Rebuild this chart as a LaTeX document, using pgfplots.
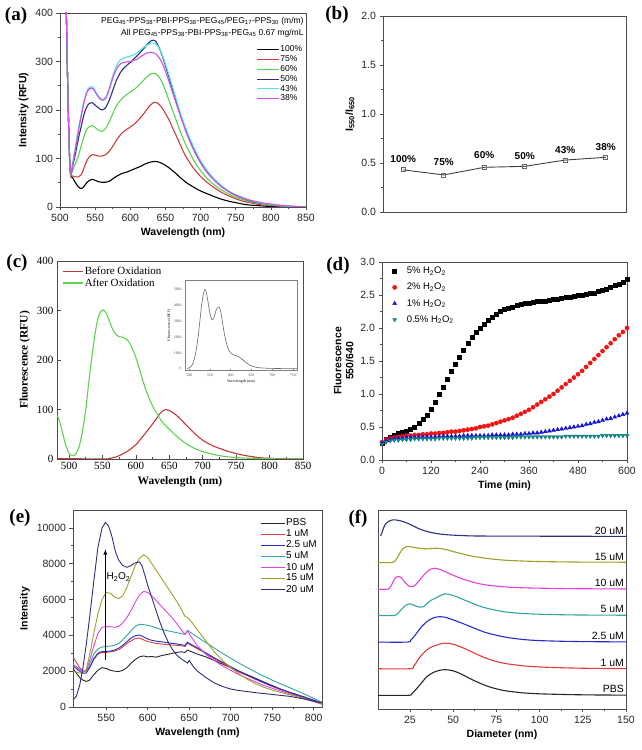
\documentclass[border=0pt]{standalone}
\usepackage{fontspec}
\setmainfont{Liberation Sans}
\newfontfamily\timesf{Liberation Serif}
\usepackage{pgfplots}
\pgfplotsset{compat=1.18}

\definecolor{cRed}{RGB}{205,60,60}
\definecolor{cGreen}{RGB}{90,210,80}
\definecolor{cNavy}{RGB}{45,45,135}
\definecolor{cCyan}{RGB}{80,225,225}
\definecolor{cMag}{RGB}{210,80,225}
\definecolor{oxRed}{RGB}{195,55,55}
\definecolor{oxGreen}{RGB}{95,210,80}
\definecolor{dRed}{RGB}{240,20,20}
\definecolor{dBlue}{RGB}{20,20,210}
\definecolor{dTeal}{RGB}{20,130,130}
\definecolor{eRed}{RGB}{225,60,60}
\definecolor{eBlue}{RGB}{35,45,195}
\definecolor{eTeal}{RGB}{50,165,160}
\definecolor{eMag}{RGB}{225,65,225}
\definecolor{eOlive}{RGB}{160,160,40}
\definecolor{eNavy}{RGB}{45,45,130}

\pgfplotsset{
  panel/.style={
    scale only axis, anchor=south west,
    /pgf/number format/assume math mode=true,
    /pgf/number format/1000 sep={},
    scaled ticks=false,
    tick label style={font=\fontsize{10.5}{12}\selectfont, text=black!85},
    label style={font=\bfseries\fontsize{10.5}{12}\selectfont},
    xtick pos=left, ytick pos=left, tick align=outside,
    major tick length=3.5pt, minor tick length=2pt,
    axis line style={line width=0.9pt, black!70},
    every tick/.style={black!70, line width=0.7pt},
    legend cell align=left,
  },
}

\begin{document}
\begin{tikzpicture}
\path[use as bounding box] (0,0) rectangle (642pt,750pt);

% ---------- (a) ----------
\begin{axis}[panel, at={(60pt,543pt)}, width=246pt, height=194pt,
  xmin=500, xmax=850, ymin=0, ymax=400,
  xtick={500,550,...,850}, ytick={0,100,...,400},
  minor x tick num=1, minor y tick num=1,
  xlabel={Wavelength (nm)}, ylabel={Intensity (RFU)},
  legend style={at={(rel axis cs:1,0.845)}, anchor=north east, draw=none, fill=none,
    font=\fontsize{8.5}{10}\selectfont, row sep=1.2pt, nodes={inner sep=0.6pt}},
  legend image code/.code={\draw[#1, line width=1.1pt] (0pt,0pt) -- (22pt,0pt);},
  every axis plot/.append style={line width=1.1pt, smooth}]
\addplot[black] coordinates {(505,700)(509,400)(511,250)(513,130)(515,68)(518,60)(522,50)(526,42)(530,38)(534,42)(538,50)(542,55)(546,57)(550,55)(555,52)(560,51)(565,51)(570,53)(575,58)(580,63)(585,67)(590,70)(595,72)(600,75)(605,78)(610,81)(615,84)(620,88)(625,91)(630,93)(635,94)(640,93)(645,90)(650,86)(655,81)(660,75)(665,69)(670,62)(675,56)(680,50)(690,41)(700,33)(710,27)(720,21)(730,16)(740,12)(750,9)(760,6)(770,4)(780,3)(790,2)(800,1)(820,0.5)(850,0)};
\addlegendentry{100\%}
\addplot[cRed] coordinates {(505,700)(509,400)(511,250)(513,130)(515,68)(518,64)(522,62)(526,62)(530,66)(534,80)(538,95)(542,104)(546,108)(550,107)(555,105)(560,105)(565,108)(570,115)(575,125)(580,137)(585,147)(590,155)(595,160)(600,165)(605,170)(610,177)(615,185)(620,194)(625,204)(630,212)(635,216)(640,213)(645,205)(650,193)(655,180)(660,164)(665,148)(670,132)(675,116)(680,102)(690,80)(700,63)(710,50)(720,39)(730,30)(740,23)(750,17)(760,12)(770,9)(780,6)(790,4)(800,3)(820,1)(850,0)};
\addlegendentry{75\%}
\addplot[cGreen] coordinates {(505,700)(509,400)(511,250)(513,130)(515,68)(518,75)(522,90)(526,105)(530,125)(534,145)(538,160)(542,166)(546,168)(550,164)(555,158)(560,156)(565,162)(570,175)(575,192)(580,208)(585,218)(590,226)(595,232)(600,237)(605,242)(610,248)(615,255)(620,263)(625,270)(630,275)(635,275)(640,270)(645,258)(650,240)(655,220)(660,200)(665,180)(670,160)(675,142)(680,125)(690,97)(700,75)(710,58)(720,45)(730,35)(740,27)(750,20)(760,15)(770,11)(780,8)(790,6)(800,4)(820,2)(850,0)};
\addlegendentry{60\%}
\addplot[cNavy] coordinates {(505,700)(509,400)(511,250)(513,130)(515,68)(518,85)(522,110)(526,140)(530,165)(534,190)(538,206)(542,214)(546,215)(550,210)(555,204)(560,200)(565,205)(570,220)(575,240)(580,260)(585,275)(590,285)(595,292)(600,298)(605,305)(610,312)(615,320)(620,328)(625,337)(630,343)(633,344)(637,340)(642,325)(647,305)(652,282)(657,258)(662,234)(667,210)(672,188)(677,167)(682,148)(690,120)(700,92)(710,71)(720,55)(730,42)(740,32)(750,24)(760,18)(770,13)(780,9)(790,7)(800,5)(820,2)(850,0)};
\addlegendentry{50\%}
\addplot[cCyan] coordinates {(505,700)(509,400)(511,250)(513,130)(515,68)(518,90)(522,125)(526,160)(530,190)(534,218)(538,238)(542,247)(546,248)(550,240)(555,228)(560,222)(565,226)(570,245)(575,270)(580,290)(585,302)(590,307)(595,309)(600,311)(605,314)(610,318)(615,324)(620,330)(625,335)(630,338)(635,338)(640,330)(645,315)(650,295)(655,272)(660,248)(665,224)(670,200)(675,178)(680,158)(690,124)(700,96)(710,74)(720,57)(730,44)(740,33)(750,25)(760,19)(770,14)(780,10)(790,7)(800,5)(820,2)(850,0)};
\addlegendentry{43\%}
\addplot[cMag] coordinates {(505,700)(509,400)(511,250)(513,130)(515,68)(518,88)(522,120)(526,155)(530,185)(534,214)(538,235)(542,244)(546,245)(550,237)(555,226)(560,220)(565,224)(570,242)(575,265)(580,283)(585,294)(590,298)(595,299)(600,300)(605,302)(610,305)(615,310)(620,315)(625,318)(630,319)(635,317)(640,310)(645,298)(650,280)(655,259)(660,237)(665,215)(670,193)(675,172)(680,152)(690,118)(700,91)(710,70)(720,54)(730,42)(740,32)(750,25)(760,19)(770,14)(780,11)(790,8)(800,6)(810,4)(820,3)(835,1)(850,0)};
\addlegendentry{38\%}
\node[anchor=north east, align=right, font=\fontsize{8.5}{12}\selectfont, inner sep=1pt] at (rel axis cs:0.995,0.985)
  {PEG\textsubscript{45}-PPS\textsubscript{38}-PBI-PPS\textsubscript{38}-PEG\textsubscript{45}/PEG\textsubscript{17}-PPS\textsubscript{30} (m/m)\\
   All PEG\textsubscript{45}-PPS\textsubscript{38}-PBI-PPS\textsubscript{38}-PEG\textsubscript{45} 0.67 mg/mL};
\end{axis}

% ---------- (b) ----------
\begin{axis}[panel, at={(383pt,538pt)}, width=243pt, height=196pt,
  xmin=0.5, xmax=6.5, ymin=0, ymax=2,
  xtick=\empty, ytick={0,0.5,...,2}, minor y tick num=1,
  yticklabel style={/pgf/number format/.cd, fixed, fixed zerofill, precision=1},
  ylabel={I\textsubscript{550}/I\textsubscript{650}}]
\addplot[black!75, line width=0.9pt, mark=square, mark size=2pt, mark options={fill=white, black!60}]
  coordinates {(1,0.43)(2,0.378)(3,0.456)(4,0.466)(5,0.53)(6,0.558)};
\foreach \xx/\yy/\tt in {1/0.545/100, 2/0.505/75, 3/0.58/60, 4/0.575/50, 5/0.635/43, 6/0.665/38}{
  \edef\tmp{\noexpand\node[font=\noexpand\bfseries\noexpand\fontsize{10}{12}\noexpand\selectfont] at (axis cs:\xx,\yy) {\tt\noexpand\%};}\tmp
}
\end{axis}

% ---------- (c) ----------
\begin{axis}[panel, at={(57pt,291pt)}, width=246pt, height=198pt,
  xmin=482, xmax=850, ymin=0, ymax=400,
  xtick={500,550,...,850}, ytick={0,100,...,400},
  minor x tick num=1, tick align=inside,
  tick label style={font=\timesf\fontsize{11}{12}\selectfont, text=black},
  label style={font=\timesf\bfseries\fontsize{11.5}{12}\selectfont},
  xlabel={Wavelength (nm)}, ylabel={Fluorescence (RFU)},
  legend style={at={(rel axis cs:0.01,0.985)}, anchor=north west, draw=none, fill=none,
    font=\timesf\fontsize{11}{12}\selectfont, row sep=0pt, nodes={inner sep=1pt}},
  legend image code/.code={\draw[#1, line width=1.1pt] (0pt,0pt) -- (20pt,0pt);},
  every axis plot/.append style={line width=1.1pt, smooth}]
\addplot[oxRed] coordinates {(482,1)(550,0)(560,1)(570,4)(580,10)(590,18)(600,29)(610,45)(620,62)(630,80)(638,95)(645,100)(650,98)(660,89)(670,76)(680,62)(690,49)(700,38)(710,30)(720,24)(730,19)(740,14.5)(750,11)(760,8)(770,5.5)(780,3.5)(790,2)(800,1.3)(820,0.5)(850,0)};
\addlegendentry{Before Oxidation}
\addplot[oxGreen] coordinates {(482,88)(485,80)(490,55)(495,28)(500,12)(505,7)(510,10)(515,25)(520,55)(525,100)(530,160)(535,215)(540,262)(545,292)(550,301)(555,296)(560,280)(565,263)(570,252)(575,247)(580,246)(585,243)(590,236)(595,222)(600,205)(605,183)(610,160)(615,140)(620,122)(625,107)(630,95)(635,84)(640,74)(650,60)(660,47)(670,36)(680,27)(690,20)(700,15)(720,8)(740,4)(760,2)(780,1)(800,0.5)(850,0)};
\addlegendentry{After Oxidation}
\end{axis}

% inset of (c)
\begin{axis}[scale only axis, anchor=south west, at={(185pt,380pt)}, width=112pt, height=90pt,
  xmin=490, xmax=760, ymin=-80, ymax=5600,
  xtick={500,550,...,750}, ytick={0,1000,...,5000},
  /pgf/number format/assume math mode=true, /pgf/number format/1000 sep={},
  scaled ticks=false,
  tick label style={font=\timesf\fontsize{3.8}{4}\selectfont, text=black!70},
  label style={font=\timesf\bfseries\fontsize{3.8}{4}\selectfont, text=black!70},
  xlabel={Wavelength (nm)}, ylabel={Fluorescence (RFU)},
  xlabel style={yshift=3pt}, ylabel style={yshift=-4pt},
  major tick length=1.2pt, tick align=inside, xtick pos=left, ytick pos=left,
  axis line style={black!50, line width=0.4pt}, every tick/.style={black!50, line width=0.3pt}]
\addplot[black!60, line width=0.6pt, smooth] coordinates {(495,30)(500,50)(505,150)(510,400)(515,900)(520,1700)(525,2800)(530,4000)(535,4800)(538,5000)(541,4850)(545,4300)(550,3500)(555,3100)(560,3250)(565,3700)(570,3900)(573,3880)(577,3500)(580,3000)(585,2200)(590,1600)(595,1200)(600,1000)(605,900)(610,850)(615,800)(620,750)(625,650)(630,550)(635,430)(640,330)(645,250)(650,180)(660,100)(670,60)(680,40)(700,20)(725,10)(750,5)(760,3)};
\end{axis}

% ---------- (d) ----------
\begin{axis}[panel, at={(382pt,290pt)}, width=245pt, height=198pt,
  xmin=0, xmax=600, ymin=0, ymax=3,
  xtick={0,120,...,600}, ytick={0,0.5,...,3},
  minor x tick num=1, minor y tick num=1,
  yticklabel style={/pgf/number format/.cd, fixed, fixed zerofill, precision=1},
  xlabel={Time (min)}, ylabel={Fluorescence\\550/640}, ylabel style={align=center},
  legend style={at={(rel axis cs:0.03,0.99)}, anchor=north west, draw=none, fill=none,
    font=\fontsize{9.5}{11}\selectfont, row sep=6pt, nodes={inner sep=1pt},
    /tikz/every odd column/.append style={column sep=9pt}}]
\addplot[only marks, mark=square*, mark size=2pt, black] coordinates {(0,0.25)(10,0.31)(20,0.34)(30,0.37)(40,0.40)(50,0.42)(60,0.44)(70,0.47)(80,0.50)(90,0.55)(100,0.62)(110,0.68)(120,0.77)(130,0.87)(140,0.99)(150,1.10)(160,1.22)(170,1.34)(180,1.45)(190,1.56)(200,1.67)(210,1.77)(220,1.86)(230,1.94)(240,2.00)(250,2.06)(260,2.12)(270,2.17)(280,2.21)(290,2.25)(300,2.28)(310,2.30)(320,2.32)(330,2.34)(340,2.36)(350,2.37)(360,2.38)(370,2.39)(380,2.40)(390,2.41)(400,2.41)(410,2.42)(420,2.43)(430,2.44)(440,2.45)(450,2.46)(460,2.47)(470,2.48)(480,2.49)(490,2.50)(500,2.51)(510,2.52)(520,2.53)(530,2.55)(540,2.57)(550,2.59)(560,2.62)(570,2.65)(580,2.67)(590,2.70)(600,2.74)};
\addlegendentry{5\% H\textsubscript{2}O\textsubscript{2}}
\addplot[only marks, mark=*, mark size=2.1pt, dRed] coordinates {(0,0.27)(10,0.31)(20,0.33)(30,0.34)(40,0.35)(50,0.36)(60,0.37)(70,0.37)(80,0.38)(90,0.38)(100,0.39)(110,0.39)(120,0.40)(130,0.40)(140,0.41)(150,0.41)(160,0.42)(170,0.43)(180,0.43)(190,0.44)(200,0.45)(210,0.46)(220,0.47)(230,0.48)(240,0.50)(250,0.51)(260,0.52)(270,0.54)(280,0.56)(290,0.58)(300,0.60)(310,0.62)(320,0.64)(330,0.67)(340,0.70)(350,0.73)(360,0.76)(370,0.80)(380,0.84)(390,0.88)(400,0.92)(410,0.96)(420,1.00)(430,1.05)(440,1.10)(450,1.15)(460,1.20)(470,1.25)(480,1.30)(490,1.35)(500,1.41)(510,1.47)(520,1.53)(530,1.59)(540,1.65)(550,1.71)(560,1.77)(570,1.83)(580,1.89)(590,1.94)(600,2.00)};
\addlegendentry{2\% H\textsubscript{2}O\textsubscript{2}}
\addplot[only marks, mark=triangle*, mark size=2.3pt, dBlue] coordinates {(0,0.26)(10,0.29)(20,0.31)(30,0.32)(40,0.33)(50,0.33)(60,0.34)(70,0.34)(80,0.34)(90,0.35)(100,0.35)(110,0.35)(120,0.35)(130,0.35)(140,0.36)(150,0.36)(160,0.36)(170,0.36)(180,0.36)(190,0.36)(200,0.37)(210,0.37)(220,0.37)(230,0.37)(240,0.37)(250,0.37)(260,0.37)(270,0.38)(280,0.38)(290,0.38)(300,0.38)(310,0.38)(320,0.39)(330,0.39)(340,0.39)(350,0.40)(360,0.40)(370,0.41)(380,0.41)(390,0.42)(400,0.43)(410,0.44)(420,0.45)(430,0.46)(440,0.47)(450,0.48)(460,0.49)(470,0.50)(480,0.51)(490,0.52)(500,0.54)(510,0.55)(520,0.57)(530,0.58)(540,0.60)(550,0.62)(560,0.63)(570,0.65)(580,0.67)(590,0.69)(600,0.71)};
\addlegendentry{1\% H\textsubscript{2}O\textsubscript{2}}
\addplot[only marks, mark=triangle*, mark options={rotate=180}, mark size=2.3pt, dTeal] coordinates {(0,0.24)(10,0.27)(20,0.29)(30,0.30)(40,0.30)(50,0.31)(60,0.31)(70,0.31)(80,0.32)(90,0.32)(100,0.32)(110,0.32)(120,0.32)(130,0.32)(140,0.33)(150,0.33)(160,0.33)(170,0.33)(180,0.33)(190,0.33)(200,0.33)(210,0.33)(220,0.33)(230,0.34)(240,0.34)(250,0.34)(260,0.34)(270,0.34)(280,0.34)(290,0.34)(300,0.34)(310,0.34)(320,0.34)(330,0.35)(340,0.35)(350,0.35)(360,0.35)(370,0.35)(380,0.35)(390,0.35)(400,0.35)(410,0.35)(420,0.35)(430,0.35)(440,0.35)(450,0.36)(460,0.36)(470,0.36)(480,0.36)(490,0.36)(500,0.36)(510,0.36)(520,0.36)(530,0.36)(540,0.37)(550,0.37)(560,0.37)(570,0.37)(580,0.37)(590,0.37)(600,0.37)};
\addlegendentry{0.5\% H\textsubscript{2}O\textsubscript{2}}
\end{axis}

% ---------- (e) ----------
\begin{axis}[panel, at={(73pt,43pt)}, width=249pt, height=197pt,
  xmin=510, xmax=810, ymin=0, ymax=11000,
  xtick={550,600,...,800}, ytick={0,2000,...,10000},
  minor x tick num=1, minor y tick num=1,
  xlabel={Wavelength (nm)}, ylabel={Intensity},
  legend style={at={(rel axis cs:0.995,0.97)}, anchor=north east, draw=none, fill=none,
    font=\fontsize{10}{11}\selectfont, row sep=1pt, nodes={inner sep=0.8pt}},
  legend image code/.code={\draw[#1, line width=1pt] (0pt,0pt) -- (24pt,0pt);},
  every axis plot/.append style={line width=0.9pt}]
\addplot[black!85] coordinates {(510,2150)(514,1900)(518,1650)(522,1500)(526,1430)(530,1500)(535,1800)(540,2050)(545,2200)(550,2150)(555,2050)(560,2000)(565,1980)(570,2050)(575,2200)(580,2450)(585,2650)(590,2800)(595,2850)(600,2800)(605,2820)(610,2780)(615,2850)(620,2900)(625,2950)(630,3000)(635,3050)(640,3080)(645,3050)(648,3180)(652,3100)(660,2950)(670,2800)(680,2600)(690,2400)(700,2200)(710,2000)(720,1800)(730,1600)(740,1400)(750,1200)(760,1000)(770,820)(780,650)(790,500)(800,350)(810,220)};
\addlegendentry{PBS}
\addplot[eRed] coordinates {(510,2800)(514,2500)(518,2200)(522,2000)(526,2000)(530,2200)(535,2650)(540,2950)(545,3050)(550,3050)(555,3080)(560,3120)(565,3200)(570,3350)(575,3550)(580,3700)(585,3820)(590,3850)(595,3750)(600,3650)(605,3600)(610,3550)(615,3530)(620,3500)(625,3480)(630,3460)(635,3440)(640,3420)(645,3380)(648,3560)(652,3450)(660,3250)(670,3000)(680,2700)(690,2450)(700,2200)(710,1950)(720,1750)(730,1550)(740,1350)(750,1150)(760,980)(770,820)(780,680)(790,530)(800,380)(810,220)};
\addlegendentry{1 uM}
\addplot[eBlue] coordinates {(510,2300)(514,2150)(518,2000)(522,1880)(526,1900)(530,2200)(535,2700)(540,3000)(545,3100)(550,3100)(555,3120)(560,3180)(565,3280)(570,3450)(575,3650)(580,3850)(585,3980)(590,4020)(595,3920)(600,3800)(605,3720)(610,3680)(615,3650)(620,3620)(625,3580)(630,3550)(635,3520)(640,3480)(645,3440)(648,3620)(652,3500)(660,3300)(670,3020)(680,2750)(690,2500)(700,2250)(710,2000)(720,1780)(730,1560)(740,1360)(750,1170)(760,1000)(770,840)(780,690)(790,540)(800,380)(810,220)};
\addlegendentry{2.5 uM}
\addplot[eTeal] coordinates {(510,2400)(514,2250)(518,2100)(522,1980)(526,2000)(530,2400)(535,2950)(540,3250)(545,3350)(550,3380)(555,3400)(560,3450)(565,3550)(570,3750)(575,4000)(580,4250)(585,4500)(590,4620)(595,4600)(600,4560)(605,4500)(610,4420)(615,4350)(620,4300)(625,4250)(630,4200)(635,4150)(640,4100)(645,4050)(648,4280)(652,4150)(660,3900)(670,3600)(680,3300)(690,3000)(700,2720)(710,2450)(720,2200)(730,1950)(740,1720)(750,1500)(760,1300)(770,1100)(780,900)(790,700)(800,480)(810,260)};
\addlegendentry{5 uM}
\addplot[eMag] coordinates {(510,2300)(514,2200)(518,2100)(522,2000)(526,2050)(530,2600)(535,3400)(540,4100)(545,4450)(550,4500)(555,4480)(560,4450)(565,4500)(570,4700)(575,5000)(580,5400)(585,5850)(590,6250)(595,6450)(600,6400)(605,6200)(610,5950)(615,5700)(620,5450)(625,5200)(630,4950)(635,4650)(640,4350)(645,4050)(648,4250)(652,3950)(660,3400)(670,2950)(680,2600)(690,2300)(700,2050)(710,1800)(720,1600)(730,1400)(740,1200)(750,1050)(760,900)(770,750)(780,600)(790,450)(800,300)(810,150)};
\addlegendentry{10 uM}
\addplot[eOlive] coordinates {(510,2000)(514,1950)(518,1900)(522,1880)(526,2100)(530,2900)(535,4100)(540,5200)(545,6000)(550,6400)(555,6350)(560,6150)(565,6050)(570,6200)(575,6700)(580,7300)(585,7900)(590,8300)(595,8500)(600,8350)(605,8000)(610,7650)(615,7300)(620,6950)(625,6600)(630,6250)(635,5900)(640,5500)(645,5050)(648,5000)(652,4800)(660,4300)(670,3700)(680,3100)(690,2600)(700,2200)(710,1850)(720,1550)(730,1300)(740,1100)(750,950)(760,820)(770,700)(780,580)(790,450)(800,320)(810,180)};
\addlegendentry{15 uM}
\addplot[eNavy] coordinates {(510,400)(514,600)(518,1200)(522,2200)(526,3500)(530,5000)(535,7000)(540,8900)(545,10000)(549,10300)(553,10100)(557,9500)(561,8700)(565,8200)(570,7900)(575,7800)(580,7900)(585,8050)(590,8100)(593,7900)(597,7300)(600,6800)(605,6100)(610,5400)(615,4700)(620,4100)(625,3600)(630,3200)(635,2900)(640,2700)(645,2550)(648,2450)(650,2600)(655,2250)(660,2000)(670,1650)(680,1350)(690,1150)(700,1000)(710,920)(720,860)(730,800)(740,750)(750,700)(760,650)(770,600)(780,520)(790,430)(800,320)(810,230)};
\addlegendentry{20 uM}
\draw[-latex, line width=0.8pt] (axis cs:549,2600) -- (axis cs:549,8800);
\node[font=\fontsize{10}{12}\selectfont, anchor=west, inner sep=1pt] at (axis cs:549,7250) {H\textsubscript{2}O\textsubscript{2}};
\end{axis}

% ---------- (f) ----------
\begin{axis}[panel, at={(378pt,41pt)}, width=248pt, height=199pt,
  xmin=6.5, xmax=150, ymin=0, ymax=199.3,
  xtick={25,50,...,150}, minor x tick num=1, ytick=\empty,
  xlabel={Diameter (nm)},
  every axis plot/.append style={line width=1.1pt, smooth}]
\addplot[black!85] coordinates {(6.5,13.7)(24,13.7)(26,15.2)(28,18.7)(31,24.7)(35,32.7)(40,37.7)(45,39.4)(50,38.2)(55,34.7)(60,30.2)(65,26.2)(70,22.7)(75,20.2)(80,18.3)(90,16.2)(100,15.2)(115,14.5)(130,14.1)(150,13.9)};
\addplot[eRed] coordinates {(6.5,40.3)(25,40.3)(27,42.3)(30,50.3)(33,56.3)(36,60.8)(40,63.8)(45,66.0)(50,64.8)(55,61.8)(60,57.8)(65,53.8)(70,50.3)(75,47.6)(80,45.6)(90,43.3)(100,42.1)(115,41.2)(130,40.7)(150,40.5)};
\addplot[eBlue] coordinates {(6.5,67)(23.5,67)(25.5,69)(28,74)(32,83)(36,89)(40,92)(44,92.3)(48,90.5)(55,86)(60,82.5)(65,79)(70,76)(80,72)(90,69.7)(100,68.5)(120,67.6)(150,67.2)};
\addplot[eTeal] coordinates {(6.5,93.7)(16,93.7)(18,95.7)(20,99.7)(22.5,103.7)(25,105.4)(27.5,103.7)(30,102.2)(32,102.0)(34,104.2)(37,108.7)(40,111.2)(45,115.2)(50,113.7)(55,110.2)(60,106.7)(65,103.2)(70,100.7)(80,97.2)(90,95.7)(100,94.9)(120,94.2)(150,93.9)};
\addplot[eMag] coordinates {(6.5,120)(12,120)(14,123)(16,130)(18,132.7)(20,131.5)(22,127)(24.5,123)(26,122.7)(28,124)(31,130)(34,136)(37,140)(39,141)(42,140)(46,137)(50,134)(55,130.5)(60,127.7)(65,125.5)(70,124)(80,122.3)(90,121.4)(100,121)(120,120.5)(150,120.2)};
\addplot[eOlive] coordinates {(6.5,146.7)(15,146.7)(17,149.7)(19,155.7)(21,160.7)(23,162.7)(26,162.2)(30,161)(35,160.4)(40,161)(45,160)(50,157.7)(55,155.5)(60,153.4)(70,150.7)(80,149)(90,148.2)(100,147.7)(120,147.2)(150,147)};
\addplot[eNavy] coordinates {(8,173.2)(9,177.7)(10.5,184.4)(12.5,187.7)(15,189.4)(18,189)(21,187.7)(25,185)(30,180.7)(35,177.7)(40,175.9)(45,174.7)(55,173.7)(70,173.2)(150,172.9)};
\foreach \yy/\tt in {13.7/PBS, 40.3/1 uM, 67/2.5 uM, 93.7/5 uM, 120/10 uM, 146.7/15 uM, 172.7/20 uM}{
  \edef\tmp{\noexpand\node[anchor=south east, inner sep=1pt, font=\noexpand\fontsize{10.5}{12}\noexpand\selectfont] at (axis cs:149.5,\yy+1.2) {\tt};}\tmp
}
\end{axis}

% panel letters
\foreach \px/\py/\lt in {16/734/a, 337/735/b, 17/487/c, 338/484/d, 20/232/e, 358/231/f}{
  \node[font=\timesf\bfseries\fontsize{19}{20}\selectfont] at (\px pt,\py pt) {(\lt)};
}
\end{tikzpicture}
\end{document}
